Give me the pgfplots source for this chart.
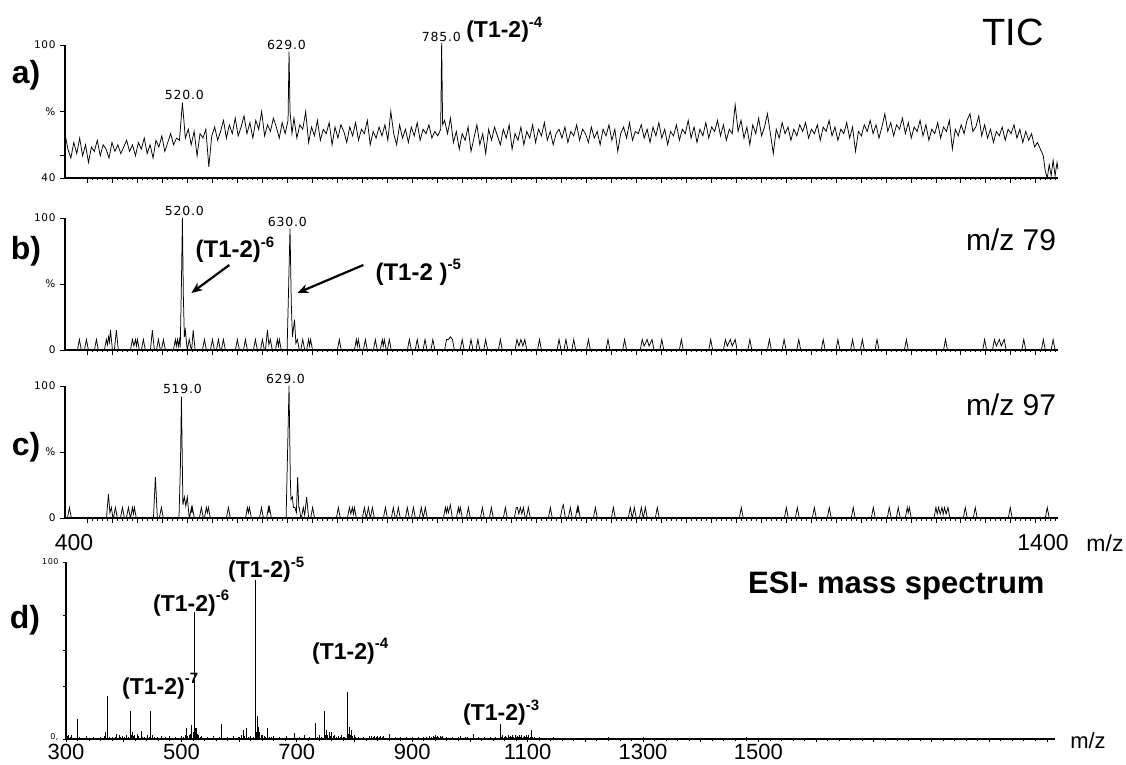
\documentclass[border=0pt]{standalone}
\usepackage{fontspec}
\setmainfont{Liberation Sans}
\newfontfamily\plotfont[LetterSpace=6]{DejaVu Sans}
\usepackage{pgfplots}
\pgfplotsset{compat=1.18}
\usetikzlibrary{arrows.meta}
\newcommand{\sups}[1]{\raisebox{0.45em}{\fontsize{15}{15}\selectfont #1}}
\newcommand{\pk}{\plotfont\fontsize{12.5}{12.5}\selectfont}
\pgfplotsset{
  msbase/.style={
    scale only axis, axis lines*=left, clip=false,
    axis line style={line width=1.1pt, black},
    every tick/.style={black, line width=0.8pt},
    tick align=outside,
    major tick length=5pt, minor tick length=2.5pt,
    /pgf/number format/assume math mode=true,
    yticklabel style={font=\plotfont\fontsize{10.5}{10.5}\selectfont, xshift=-1pt},
  },
  chrom/.style={msbase, xmin=400, xmax=1415, width=993pt, height=132pt,
    xtick={423.2,448.7,...,1415}, xticklabels={}, minor x tick num=4},
  trace/.style={black, line width=0.75pt, mark=none},
}
\begin{document}
\begin{tikzpicture}
\path[use as bounding box] (0pt,0pt) rectangle (1126pt,764pt);
% ---------------- a) TIC
\begin{axis}[chrom, at={(65pt,586pt)}, anchor=south west, height=133pt,
  ymin=40, ymax=100, ytick={40,50,70,100}, yticklabels={40,,\%,100}]
\addplot[trace] coordinates {
(400,60)(403,53)(406,49)(409,56)(412,51)(415,58)(418,50)(421,55)(424,47)(427,54)(430,52)(433,57)(436,50)(439,55)(442,53)(445,49)(448,56)(451,52)(454,55)(457,51)
(460,54)(463,57)(466,52)(469,55)(472,50)(475,56)(478,53)(481,58)(484,51)(487,55)(490,49)(493,57)(496,54)(499,59)(502,52)(505,56)(508,60)(511,55)(514,58)(517,57)
(520,74)(523,58)(526,62)(529,55)(532,61)(535,50)(538,60)(541,58)(544,62)(547,45)(550,59)(553,63)(556,57)(559,61)(562,66)(565,58)(568,64)(571,60)(574,67)(577,59)
(580,63)(583,68)(586,60)(589,65)(592,58)(595,66)(598,62)(601,70)(604,59)(607,64)(610,61)(613,67)(616,63)(619,58)(622,65)(625,60)(628,66)(629,97)(630,70)(632,60)
(634,67)(637,58)(640,64)(643,62)(646,70)(649,56)(652,63)(655,59)(658,66)(661,57)(664,62)(667,60)(670,65)(673,55)(676,63)(679,58)(682,64)(685,61)(688,56)(691,63)
(694,59)(697,65)(700,57)(703,62)(706,60)(709,66)(712,55)(715,61)(718,58)(721,63)(724,59)(727,64)(730,57)(733,70)(736,60)(739,55)(742,64)(745,58)(748,62)(751,56)
(754,63)(757,59)(760,65)(763,57)(766,62)(769,60)(772,64)(775,58)(778,61)(781,59)(784,62)(785,101)(786,64)(788,66)(791,60)(794,67)(797,56)(800,61)(803,53)(806,60)
(809,57)(812,63)(815,52)(818,58)(821,64)(824,55)(827,60)(830,51)(833,62)(836,57)(839,63)(842,59)(845,55)(848,62)(851,58)(854,64)(857,53)(860,60)(863,57)(866,63)
(869,55)(872,61)(875,58)(878,64)(881,56)(884,62)(887,59)(890,65)(893,57)(896,61)(899,55)(902,60)(905,62)(908,58)(911,63)(914,56)(917,61)(920,59)(923,64)(926,57)
(929,62)(932,60)(935,56)(938,63)(941,58)(944,61)(947,55)(950,62)(953,59)(956,64)(959,57)(962,62)(965,52)(968,60)(971,63)(974,58)(977,65)(980,57)(983,61)(986,60)
(989,64)(992,58)(995,62)(998,56)(1001,63)(1004,59)(1007,65)(1010,58)(1013,62)(1016,55)(1019,61)(1022,59)(1025,64)(1028,57)(1031,62)(1034,60)(1037,66)(1040,58)(1043,63)(1046,56)
(1049,62)(1052,59)(1055,65)(1058,58)(1061,63)(1064,61)(1067,66)(1070,59)(1073,64)(1076,57)(1079,62)(1082,60)(1085,73)(1088,61)(1091,66)(1094,58)(1097,63)(1100,55)(1103,64)(1106,60)
(1109,67)(1112,59)(1115,63)(1118,69)(1121,60)(1124,51)(1127,62)(1130,58)(1133,65)(1136,60)(1139,63)(1142,57)(1145,62)(1148,59)(1151,64)(1154,61)(1157,65)(1160,58)(1163,62)(1166,60)
(1169,64)(1172,57)(1175,63)(1178,61)(1181,66)(1184,59)(1187,63)(1190,57)(1193,62)(1196,60)(1199,65)(1202,58)(1205,63)(1208,52)(1211,61)(1214,59)(1217,64)(1220,61)(1223,66)(1226,60)
(1229,64)(1232,58)(1235,63)(1238,69)(1241,61)(1244,65)(1247,59)(1250,64)(1253,62)(1256,67)(1259,60)(1262,65)(1265,58)(1268,63)(1271,61)(1274,66)(1277,59)(1280,64)(1283,57)(1286,62)
(1289,60)(1292,65)(1295,58)(1298,63)(1301,61)(1304,66)(1307,53)(1310,62)(1313,59)(1316,64)(1319,60)(1322,66)(1325,69)(1328,61)(1331,63)(1334,68)(1337,59)(1340,64)(1343,58)(1346,62)
(1349,56)(1352,61)(1355,59)(1358,63)(1361,57)(1364,62)(1367,60)(1370,64)(1373,58)(1376,62)(1379,56)(1382,61)(1385,57)(1388,60)(1391,54)(1394,56)(1397,53)(1400,50)(1402,43)(1404,40)
(1406,46)(1408,41)(1410,48)(1412,41)(1414,47)(1415,44)
};
\node[font=\pk] at (axis cs:522,77.4) {520.0};
\node[font=\pk] at (axis cs:626.3,100) {629.0};
\node[font=\pk] at (axis cs:784.7,103.6) {785.0};
\node[anchor=base west, inner sep=0pt, font=\bfseries\fontsize{23}{23}\selectfont] at (axis cs:810,103.2) {(T1-2)\sups{-4}};
\end{axis}
% ---------------- b) m/z 79
\begin{axis}[chrom, at={(65pt,414pt)}, anchor=south west,
  ymin=0, ymax=100, ytick={0,50,100}, yticklabels={0,\%,100}]
\addplot[trace] coordinates {
(400,0)(412.7,0)(414.7,8)(416.7,0)(419.9,0)(421.9,8)(423.9,0)(430.1,0)(432.1,8)(434.1,0)
(440.3,0)(442.3,8)(443.4,4)(444.5,10)(445.5,6)(446.5,15)(448.5,0)(450.5,0)(452.5,15)(454.5,0)
(466.9,0)(468.9,8)(470.4,3)(472,8)(473,3)(474,8)(476,0)(478.1,0)(480.1,8)(482.1,0)
(487.3,0)(489.3,15)(491.3,0)(493.5,0)(495.5,8)(497.5,0)(498.6,0)(500.6,8)(502.6,0)
(510.8,0)(512.8,8)(513.8,3)(514.9,8)(515.9,3)(516.9,8)(517.8,2)(519,50)(520,100)(521,40)(522,10)(523,15)(524.5,3)(525,0)(527,8)(529,0)(529.5,0)(531,15)(533,0)
(540.5,0)(542.5,8)(544.5,0)(548.7,0)(550.7,8)(552.7,0)(554.8,0)(556.8,8)(558.8,0)(559.9,0)(561.9,8)(563.9,0)
(574.2,0)(576.2,8)(578.2,0)(582.4,0)(584.4,8)(586.4,0)(592.6,0)(594.6,8)(596.6,0)(599.8,0)(601.8,8)(603.8,0)
(604.9,0)(606.9,15)(608.4,4)(609.9,8)(611.9,0)(615.1,0)(617.1,8)(618.1,3)(619.1,8)(621.1,0)
(627,0)(628.5,45)(630,92)(631.3,35)(632.5,10)(634.6,23)(636,5)(637.5,8)(639.5,0)(641,0)(643,8)(645,0)(647,0)(649,8)(650,3)(651,8)(653,0)
(678.4,0)(680.4,8)(682.4,0)(695.8,0)(697.8,8)(698.8,3)(699.8,8)(701.8,0)(705,0)(707,8)(709,0)(715.2,0)(717.2,8)(719.2,0)
(722.3,0)(724.3,8)(725.3,3)(726.4,8)(728.4,0)(729.5,0)(731.5,8)(733.5,0)
(750,0)(752,8)(754,0)(758,0)(760,8)(762,0)(766,0)(768,8)(770,0)(774,0)(776,8)(778,0)(788,0)(790,8)(792,8)(794,10)(796,8)(798,0)
(804,0)(806,8)(808,0)(813,0)(815,8)(817,0)(820,0)(822,8)(824,0)(828,0)(830,8)(832,0)(843,0)(845,8)(847,0)
(860,0)(862,8)(864,3)(866,8)(868,3)(870,8)(872,0)(883,0)(885,8)(887,0)(903,0)(905,8)(907,0)(910,0)(912,8)(914,0)(918,0)(920,8)(922,0)
(933,0)(935,8)(937,0)(953,0)(955,8)(957,0)(970,0)(972,8)(974,0)(988,0)(990,8)(992,3)(995,8)(997,3)(1000,8)(1002,0)(1008,0)(1010,8)(1012,0)
(1028,0)(1030,8)(1032,0)(1058,0)(1060,8)(1062,0)(1073,0)(1075,8)(1077,3)(1080,8)(1082,3)(1085,8)(1087,0)(1098,0)(1100,8)(1102,0)
(1118,0)(1120,8)(1122,0)(1133,0)(1135,8)(1137,0)(1148,0)(1150,8)(1152,0)(1173,0)(1175,8)(1177,0)(1188,0)(1190,8)(1192,0)
(1203,0)(1205,8)(1207,0)(1213,0)(1215,8)(1217,0)(1228,0)(1230,8)(1232,0)(1258,0)(1260,8)(1262,0)(1298,0)(1300,8)(1302,0)
(1338,0)(1340,8)(1342,0)(1348,0)(1350,8)(1352,3)(1355,8)(1357,3)(1360,8)(1362,0)(1378,0)(1380,8)(1382,0)(1398,0)(1400,8)(1402,0)(1408,0)(1410,8)(1412,0)(1415,0)
};
\node[font=\pk] at (axis cs:522,105.3) {520.0};
\node[font=\pk] at (axis cs:627.3,97) {630.0};
\node[anchor=base west, inner sep=0pt, font=\bfseries\fontsize{24}{24}\selectfont] at (axis cs:533.3,69.7) {(T1-2)\sups{-6}};
\node[anchor=base west, inner sep=0pt, font=\bfseries\fontsize{24}{24}\selectfont] at (axis cs:717.2,53) {(T1-2 )\sups{-5}};
\draw[line width=2.2pt, -{Stealth[length=11pt,width=9pt]}] (axis cs:568,64.4) -- (axis cs:529.2,43.2);
\draw[line width=2.2pt, -{Stealth[length=11pt,width=9pt]}] (axis cs:705,64.4) -- (axis cs:637.5,43.2);
\end{axis}
% ---------------- c) m/z 97
\begin{axis}[chrom, at={(65pt,246pt)}, anchor=south west,
  ymin=0, ymax=100, ytick={0,50,100}, yticklabels={0,\%,100}]
\addplot[trace] coordinates {
(400,0)(402.5,0)(404.5,8)(406.5,0)
(442.4,0)(444.4,18)(445.9,4)(447.4,8)(449,0)(449.5,0)(451.5,8)(453.5,0)(456.7,0)(458.7,8)(460.7,0)(462.8,0)(464.8,8)(466.8,0)
(467,0)(468.9,8)(469.9,3)(470.9,8)(472.9,0)(490.4,0)(492.4,31)(494.4,0)(496.5,0)(498.5,8)(500.5,0)
(516.5,0)(518,40)(519,92)(520.5,10)(522,16)(523.5,9)(525,16)(527,0)(527.2,0)(529.2,8)(529.7,4)(530.2,8)(532.2,0)
(537.4,0)(539.4,8)(541.4,0)(542.5,0)(544.5,8)(545.5,4)(546.6,8)(548.6,0)(565,0)(567,8)(569,0)
(584.5,0)(586.5,8)(587.5,4)(588.5,8)(590.5,0)(598.8,0)(600.8,8)(602.8,0)(606,0)(608,8)(608.5,4)(609,8)(611,0)
(626,0)(627.5,50)(629,100)(630.3,30)(631,14)(632.4,16)(633.5,8)(635.1,8)(636.5,4)(637.8,31)(639,8)(639.5,8)(641,0)(641.6,0)(643.6,8)(645,2)(647,16)(649,0)(651.1,0)(653.1,8)(655.1,0)
(677.4,0)(679.4,8)(681.4,0)(688.7,0)(690.7,8)(692.2,3)(693.7,8)(694.8,3)(695.8,8)(697.8,0)
(704,0)(706,8)(708,0)(708.1,0)(710.1,8)(712.1,0)(712.2,0)(714.2,8)(716.2,0)(725.5,0)(727.5,8)(729.5,0)
(733.6,0)(735.6,8)(737.6,0)(738.7,0)(740.7,8)(742.7,0)(747.9,0)(749.9,8)(751.9,0)(754.1,0)(756.1,8)(758.1,0)
(762.2,0)(764.2,8)(766.2,0)(766.3,0)(768.3,8)(770.3,0)(786.8,0)(788.8,8)(789.8,4)(790.8,8)(791.9,4)(793.9,10)(795.9,0)
(800.1,0)(802.1,8)(803.1,4)(804.1,8)(806.1,0)(810.3,0)(812.3,8)(814.3,0)(824.6,0)(826.6,8)(828.6,0)(833.8,0)(835.8,8)(837.8,0)
(848.1,0)(850.1,8)(852.1,0)(859.3,0)(861.3,8)(862.4,8)(863.9,3)(865.4,8)(867,3)(868.5,8)(870.5,0)(871.6,0)(873.6,8)(875.6,0)
(894.1,0)(896.1,8)(898.1,0)(906.3,0)(908.3,8)(909.4,10)(911.4,0)(914.5,0)(916.5,8)(918.5,0)(921.7,0)(923.7,8)(924.2,4)(924.7,8)(926.7,0)
(940.1,0)(942.1,8)(944.1,0)(958.5,0)(960.5,8)(962.5,0)(975.8,0)(977.8,8)(979.8,0)(979.9,0)(981.9,8)(983.9,0)
(987.1,0)(989.1,8)(991.1,0)(991.2,0)(993.2,8)(995.2,0)(1003.4,0)(1005.4,8)(1007.4,0)
(1089.3,0)(1091.3,8)(1093.3,0)(1135.3,0)(1137.3,8)(1139.3,0)(1146.5,0)(1148.5,8)(1150.5,0)(1163.9,0)(1165.9,8)(1167.9,0)
(1179.2,0)(1181.2,8)(1183.2,0)(1203.7,0)(1205.7,8)(1207.7,0)(1224.2,0)(1226.2,8)(1228.2,0)(1240.5,0)(1242.5,8)(1244.5,0)
(1249.7,0)(1251.7,8)(1253.7,0)(1258.9,0)(1260.9,8)(1261.9,4)(1263,8)(1265,0)
(1288.2,0)(1290.2,8)(1291.5,3)(1292.9,8)(1294.6,3)(1296.4,8)(1297.7,3)(1299,8)(1300.7,3)(1302.5,8)(1304.5,0)
(1318.2,0)(1320.2,8)(1322.2,0)(1328.4,0)(1330.4,8)(1332.4,0)(1364.2,0)(1366.2,8)(1368.2,0)(1402,0)(1404,8)(1406,0)(1415,0)
};
\node[font=\pk] at (axis cs:520,97.7) {519.0};
\node[font=\pk] at (axis cs:625.3,105.3) {629.0};
\end{axis}
% ---------------- d) ESI- mass spectrum
\begin{axis}[msbase, at={(66pt,25pt)}, anchor=south west, width=989pt, height=177pt,
  xmin=300, xmax=2014, ymin=0, ymax=100,
  xtick={300,400,...,2000}, xticklabels={300,,500,,700,,900,,1100,,1300,,1500,,,,,,},
  minor x tick num=4, major tick length=3pt, minor tick length=1.5pt,
  xticklabel style={font=\fontsize{22}{22}\selectfont, inner sep=1pt, yshift=-1pt},
  ytick={0,30,50,70,100}, yticklabels={\raisebox{4pt}{0,},,,,100},
  yticklabel style={font=\plotfont\fontsize{8}{8}\selectfont}]
\addplot[ycomb, black, line width=0.8pt, mark=none] coordinates {
(303,1.5)(305,2)(308,1)(310,2)(314,0.8)(320,11.3)(324,1)(330,0.8)(336,1.5)(342,0.8)(348,1)(354,0.8)(360,1)(366,1.5)(368,4)(372,24.3)
(376,1)(380,1.2)(385,1)(388,3)(392,2)(395,1.2)(398,1.5)(402,1)(405,2)(408,1.2)(411,16)(413,2)(415,4)(417,1.5)(419,2)(423,3)(426,1.5)(430,4.5)
(433,1.2)(436,1)(441,2)(444,1)(447,16)(450,2.5)(454,1)(458,1)(462,0.8)(465,1.5)(469,0.8)(472,1)(476,0.8)(480,1.5)(485,0.8)(490,1)(495,0.8)
(500,1.5)(504,1)(507,2)(509,6)(511,1.5)(513,2)(516,3)(518,8)(520,4)(522,71.6)(523,5)(524,6)(526,6.5)(527,3)(528,3)(530,2)(533,1)(535,1.5)
(540,0.8)(545,1)(550,0.8)(555,1.5)(560,0.8)(565,1)(570,8.5)(575,0.8)(580,1)(585,0.8)(590,1.5)(594,0.8)(598,1)(601,1.2)(604,2)(608,5)(610,1.5)
(612,6)(616,1)(620,1.5)(624,1)(628,90)(629,4)(630,4)(631,5)(632,13)(633,5)(634,7)(635,4)(636,4)(638,2)(640,2)(643,1.5)(646,1)(649,6)(652,1)
(656,1)(660,1.5)(665,0.8)(670,1)(676,0.8)(682,1.5)(688,0.8)(695,3.5)(700,0.8)(705,1)(710,0.8)(714,2.5)(718,0.8)(722,1)(727,0.8)(733,9)(736,1)
(740,2)(743,1)(747,16)(749,2)(751,5)(753,2)(756,4)(758,1.5)(760,4)(763,1.5)(766,2)(769,1)(772,1.5)(775,1)(778,2.5)(781,1)(783,1)(787,26.7)
(789,3)(791,7)(793,2)(795,5)(797,1.5)(799,2.5)(802,1)(806,1)(810,0.8)(815,1)(820,0.8)(826,1.5)(830,1.5)(833,1)(835,1.5)(838,1)(840,1.5)(843,1)
(845,1.5)(848,1)(850,1.5)(855,0.8)(860,3)(865,0.8)(870,1)(875,0.8)(880,1)(885,0.8)(890,1)(895,0.8)(900,1)(905,0.8)(910,1)(915,0.8)(920,1)
(925,1)(930,1.5)(933,1.2)(936,1.5)(938,1.2)(940,2)(942,1.2)(944,1.5)(946,1.2)(948,1.5)(950,1)(953,1.5)(957,0.8)(960,1)(965,0.8)(970,1)(975,0.8)
(980,1)(984,1.5)(988,0.8)(992,1)(995,1)(1000,0.8)(1006,3)(1010,0.8)(1015,1)(1020,0.8)(1025,1)(1030,0.8)(1035,1)(1040,0.8)(1045,1)(1048,0.8)
(1052,8.6)(1055,1)(1057,2)(1060,1.2)(1062,1.5)(1064,1.2)(1066,2)(1068,1.2)(1070,1.5)(1072,1.2)(1074,2)(1076,1.2)(1078,2)(1080,1.2)(1082,1.5)
(1084,1.2)(1086,2)(1088,1.2)(1090,2)(1092,1.2)(1094,1.5)(1096,1.2)(1098,2)(1100,1.2)(1102,2)(1104,1.2)(1106,5)(1109,1)(1112,1)(1116,0.8)(1120,1)
(1125,0.6)(1130,0.8)(1137,0.6)(1144,1)(1150,0.6)(1160,0.8)(1170,0.5)(1180,0.5)(1190,0.5)(1200,0.5)(1210,0.6)(1220,0.8)(1230,0.6)(1236,0.8)
(1240,1)(1244,0.8)(1250,0.5)(1260,0.5)(1270,0.5)(1280,0.5)(1290,0.6)(1296,0.8)(1300,1)(1305,0.6)(1320,0.5)(1335,0.5)(1350,0.5)(1365,0.5)
(1380,0.5)(1400,0.5)(1415,0.5)(1430,0.5)(1445,0.5)(1460,0.5)(1470,0.6)(1480,1)(1490,0.5)(1500,0.5)(1520,0.5)(1540,0.5)(1560,0.5)(1580,0.5)
(1600,0.5)(1620,0.5)(1640,0.5)(1660,0.5)(1680,0.5)(1700,0.5)(1720,0.5)(1740,0.5)(1760,0.5)(1780,0.5)(1800,0.5)(1820,0.5)(1840,0.5)(1860,0.5)
(1880,0.5)(1900,0.5)(1920,0.5)(1940,0.5)(1960,0.5)(1980,0.5)(2000,0.5)
};
\node[anchor=base west, inner sep=0pt, font=\bfseries\fontsize{23}{23}\selectfont] at (axis cs:580.8,91) {(T1-2)\sups{-5}};
\node[anchor=base west, inner sep=0pt, font=\bfseries\fontsize{23}{23}\selectfont] at (axis cs:450.8,72.3) {(T1-2)\sups{-6}};
\node[anchor=base west, inner sep=0pt, font=\bfseries\fontsize{23}{23}\selectfont] at (axis cs:397,25.4) {(T1-2)\sups{-7}};
\node[anchor=base west, inner sep=0pt, font=\bfseries\fontsize{23}{23}\selectfont] at (axis cs:726.3,45.2) {(T1-2)\sups{-4}};
\node[anchor=base west, inner sep=0pt, font=\bfseries\fontsize{23}{23}\selectfont] at (axis cs:988,10.2) {(T1-2)\sups{-3}};
\end{axis}
% ---------------- free text
\node[font=\bfseries\fontsize{32}{32}\selectfont] at (26pt,689pt) {a)};
\node[font=\bfseries\fontsize{32}{32}\selectfont] at (26pt,513pt) {b)};
\node[font=\bfseries\fontsize{32}{32}\selectfont] at (26pt,317pt) {c)};
\node[font=\bfseries\fontsize{32}{32}\selectfont] at (25pt,144pt) {d)};
\node[font=\fontsize{38}{38}\selectfont] at (1013pt,732pt) {TIC};
\node[font=\fontsize{30}{30}\selectfont] at (1011pt,524pt) {m/z 79};
\node[font=\fontsize{30}{30}\selectfont] at (1011pt,359pt) {m/z 97};
\node[anchor=base west, inner sep=0pt, font=\bfseries\fontsize{31}{31}\selectfont] at (748pt,171pt) {ESI- mass spectrum};
\node[font=\fontsize{23}{23}\selectfont] at (74pt,221pt) {400};
\node[font=\fontsize{23}{23}\selectfont] at (1043pt,221pt) {1400};
\node[font=\fontsize{23}{23}\selectfont] at (1105pt,221pt) {m/z};
\node[font=\fontsize{22}{22}\selectfont] at (1088pt,23pt) {m/z};
\end{tikzpicture}
\end{document}
